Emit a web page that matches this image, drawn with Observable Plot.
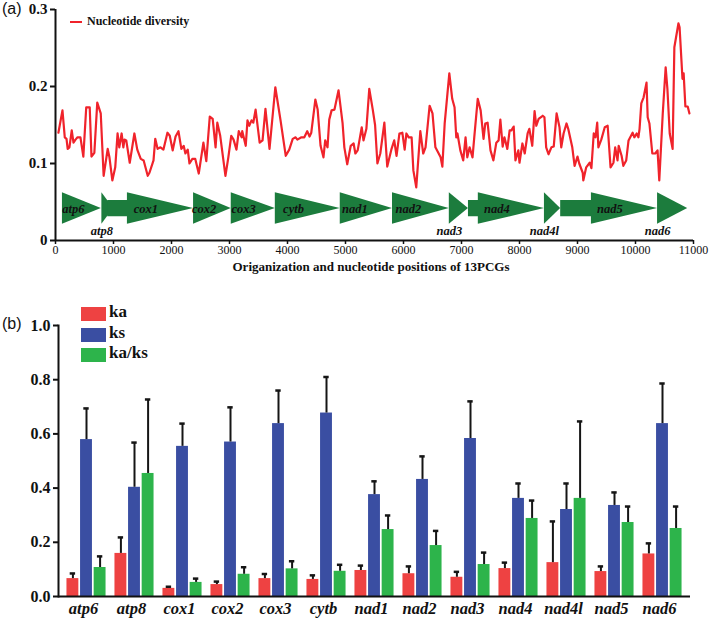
<!DOCTYPE html>
<html><head><meta charset="utf-8">
<script src="https://cdn.jsdelivr.net/npm/d3@7"></script>
<script src="https://cdn.jsdelivr.net/npm/@observablehq/plot@0.6"></script>
<style>
body{margin:0;background:#fff;}
#wrap{position:relative;width:709px;height:622px;overflow:hidden;font-family:"Liberation Serif",serif;color:#111;}
.abs{position:absolute;white-space:nowrap;}
#wrap svg{position:absolute;left:0;}
</style></head><body><div id="wrap"></div>
<script>
// ---------- Panel (a): nucleotide diversity ----------
const divPos = [50,120,160,190,210,240,280,310,345,380,430,480,530,590,620,670,720,780,830,900,930,980,1030,1070,1100,1140,1170,1190,1220,1280,1360,1410,1470,1520,1590,1620,1690,1720,1760,1810,1860,1930,1970,2020,2070,2120,2170,2210,2240,2280,2310,2360,2410,2470,2530,2550,2600,2660,2710,2760,2790,2840,2930,2980,3030,3070,3120,3160,3210,3220,3280,3310,3340,3380,3410,3450,3520,3570,3620,3690,3790,3880,3970,4030,4090,4140,4170,4240,4290,4340,4380,4410,4480,4520,4570,4620,4650,4690,4720,4760,4810,4880,4950,4980,5030,5090,5140,5170,5210,5280,5310,5360,5410,5470,5510,5550,5600,5670,5720,5790,5840,5880,5930,5980,6020,6050,6090,6140,6170,6220,6290,6340,6380,6450,6500,6550,6600,6640,6670,6710,6790,6840,6880,6910,6930,6980,7030,7070,7100,7140,7190,7220,7280,7330,7380,7410,7450,7500,7550,7600,7640,7670,7710,7740,7790,7830,7860,7900,7930,7980,8000,8050,8090,8140,8170,8220,8260,8290,8330,8400,8430,8460,8500,8550,8590,8640,8690,8720,8760,8810,8840,8910,8950,9000,9030,9090,9100,9150,9210,9240,9280,9310,9340,9360,9410,9470,9520,9570,9620,9650,9690,9710,9760,9790,9840,9880,9950,9980,10020,10050,10070,10100,10140,10190,10210,10240,10290,10340,10380,10410,10470,10520,10550,10590,10640,10670,10740,10760,10810,10830,10860,10900,10930];
const divVal = [0.140,0.169,0.134,0.132,0.119,0.121,0.143,0.127,0.131,0.134,0.134,0.109,0.173,0.173,0.109,0.114,0.179,0.165,0.084,0.119,0.108,0.078,0.095,0.139,0.121,0.139,0.121,0.131,0.130,0.101,0.139,0.118,0.106,0.104,0.084,0.088,0.104,0.132,0.119,0.121,0.118,0.140,0.136,0.117,0.135,0.142,0.119,0.123,0.113,0.118,0.100,0.106,0.106,0.087,0.117,0.127,0.103,0.161,0.158,0.121,0.153,0.136,0.084,0.108,0.136,0.131,0.118,0.142,0.134,0.142,0.123,0.156,0.149,0.156,0.153,0.170,0.127,0.130,0.171,0.119,0.199,0.156,0.110,0.118,0.132,0.134,0.131,0.134,0.134,0.142,0.135,0.140,0.183,0.170,0.123,0.108,0.130,0.121,0.157,0.169,0.170,0.195,0.152,0.121,0.099,0.123,0.126,0.113,0.117,0.147,0.130,0.145,0.197,0.170,0.150,0.100,0.113,0.153,0.096,0.118,0.130,0.110,0.139,0.140,0.118,0.139,0.134,0.134,0.091,0.069,0.142,0.113,0.121,0.175,0.165,0.121,0.114,0.108,0.096,0.152,0.217,0.184,0.173,0.134,0.139,0.117,0.104,0.134,0.108,0.121,0.108,0.134,0.184,0.169,0.132,0.152,0.153,0.117,0.104,0.127,0.130,0.157,0.122,0.134,0.119,0.143,0.143,0.148,0.104,0.117,0.101,0.126,0.113,0.139,0.145,0.123,0.168,0.149,0.158,0.162,0.160,0.121,0.112,0.121,0.122,0.165,0.147,0.121,0.139,0.152,0.145,0.121,0.097,0.109,0.100,0.088,0.078,0.095,0.101,0.094,0.139,0.134,0.153,0.121,0.131,0.147,0.149,0.095,0.101,0.121,0.104,0.123,0.110,0.097,0.104,0.130,0.140,0.134,0.139,0.134,0.145,0.178,0.186,0.205,0.160,0.152,0.113,0.113,0.117,0.078,0.165,0.225,0.197,0.139,0.119,0.251,0.282,0.277,0.210,0.217,0.174,0.174,0.165];

const geneNames = ["atp6","atp8","cox1","cox2","cox3","cytb","nad1","nad2","nad3","nad4","nad4l","nad5","nad6"];
const geneStart = [120,800,900,2380,3030,3790,4910,5810,6790,7120,8430,8710,10380];
const geneHead  = [120,800,1240,2380,3030,3790,4910,5810,6790,7290,8430,9240,10380];
const geneEnd   = [790,1000,2380,3030,3790,4910,5810,6790,7120,8430,8710,10380,10900];
const labelBelow = ["atp8","nad3","nad4l","nad6"];
const posTicks = [0,1000,2000,3000,4000,5000,6000,7000,8000,9000,10000,11000];
const divTicks = [0,0.1,0.2,0.3];

// ---------- Panel (b): ka / ks ----------
const pcgs = ["atp6","atp8","cox1","cox2","cox3","cytb","nad1","nad2","nad3","nad4","nad4l","nad5","nad6"];
const kaVal   = [0.066,0.159,0.030,0.044,0.066,0.063,0.096,0.084,0.071,0.103,0.125,0.092,0.157];
const kaErr   = [0.019,0.059,0.006,0.011,0.017,0.015,0.018,0.027,0.020,0.022,0.152,0.019,0.039];
const ksVal   = [0.579,0.403,0.554,0.570,0.638,0.677,0.376,0.432,0.583,0.362,0.321,0.336,0.638];
const ksErr   = [0.115,0.165,0.084,0.128,0.122,0.133,0.049,0.085,0.137,0.055,0.096,0.048,0.148];
const kaksVal = [0.107,0.454,0.052,0.082,0.102,0.093,0.247,0.188,0.118,0.288,0.362,0.273,0.251];
const kaksErr = [0.041,0.273,0.014,0.026,0.028,0.024,0.052,0.054,0.044,0.066,0.284,0.059,0.081];
const seriesNames = ["ka","ks","ka/ks"];
const rateTicks = [0,0.2,0.4,0.6,0.8,1.0];

const serif = "Liberation Serif";
const wrap = document.getElementById("wrap");

// ---- build panel (a) ----
const divData = divPos.map((x,i)=>({x, y: divVal[i]}));
const LO = 0.021, HI = 0.062, MID = 0.0415, BLO = 0.031, BHI = 0.052;
const arrowPts = [];
geneNames.forEach((g,i)=>{
  if (geneHead[i] > geneStart[i]) {
    arrowPts.push({gene:g, x:geneStart[i], y1:BLO, y2:BHI});
    arrowPts.push({gene:g, x:geneHead[i], y1:BLO, y2:BHI});
  }
  arrowPts.push({gene:g, x:geneHead[i], y1:LO, y2:HI});
  arrowPts.push({gene:g, x:geneEnd[i], y1:MID, y2:MID});
});
const inside = geneNames.map((g,i)=>({g, x: geneHead[i] + 0.28*(geneEnd[i]-geneHead[i])})).filter(d=>!labelBelow.includes(d.g));
const below = geneNames.map((g,i)=>({g, x: geneStart[i]})).filter(d=>labelBelow.includes(d.g));

const plotA = Plot.plot({
  width: 709, height: 282,
  marginLeft: 55, marginRight: 16, marginTop: 9, marginBottom: 42,
  style: {fontFamily: serif, background: "transparent", color: "#111", overflow: "visible"},
  x: {domain: [0, 11000]},
  y: {domain: [0, 0.3]},
  marks: [
    Plot.areaY(arrowPts, {x: "x", y1: "y1", y2: "y2", z: "gene", fill: "#1c7c3d", curve: "linear"}),
    Plot.text(inside, {x: "x", y: MID, text: "g", fontStyle: "italic", fontWeight: "bold", fontSize: 12.5, fill: "#111"}),
    Plot.text(below, {x: "x", y: 0.012, text: "g", fontStyle: "italic", fontWeight: "bold", fontSize: 12.5, fill: "#111"}),
    Plot.line(divData, {x: "x", y: "y", stroke: "#f0232b", strokeWidth: 2.2, curve: "linear"}),
    Plot.ruleY([0], {strokeWidth: 2, stroke: "#111"}),
    Plot.ruleX([0], {strokeWidth: 2, stroke: "#111"}),
    Plot.axisY({ticks: divTicks, tickFormat: d => d === 0 ? "0" : d.toFixed(1), tickSize: 5, tickPadding: 3, strokeWidth: 2, fontSize: 15, fontWeight: "bold", label: null}),
    Plot.axisX({ticks: posTicks, tickFormat: d => String(d), tickSize: 4, tickPadding: 1, strokeWidth: 1.5, fontSize: 12, label: null})
  ]
});
plotA.style.top = "0px";
wrap.appendChild(plotA);

// ---- build panel (b) ----
const colors = {"ka": "#ee4242", "ks": "#3a4ea2", "ka/ks": "#2db44b"};
const rows = [];
pcgs.forEach((g,i)=>{
  rows.push({gene:g, series:"ka", value:kaVal[i], err:kaErr[i]});
  rows.push({gene:g, series:"ks", value:ksVal[i], err:ksErr[i]});
  rows.push({gene:g, series:"ka/ks", value:kaksVal[i], err:kaksErr[i]});
});
const BW = (709 - 58 - 19) / pcgs.length;
const barInset = (BW - 12.5) / 2;
const capInset = (BW - 6) / 2;
const step = 13.6;
const bMarks = [];
seriesNames.forEach((s,k)=>{
  const d = rows.filter(r=>r.series===s);
  const dx = (k-1)*step;
  bMarks.push(Plot.barY(d, {x:"gene", y:"value", fill: colors[s], insetLeft: barInset, insetRight: barInset, dx}));
  bMarks.push(Plot.ruleX(d, {x:"gene", y1:"value", y2: r=>r.value+r.err, dx, stroke:"#151515", strokeWidth: 2}));
  bMarks.push(Plot.tickY(d, {x:"gene", y: r=>r.value+r.err, dx, insetLeft: capInset, insetRight: capInset, stroke:"#151515", strokeWidth: 2.5}));
});

const plotB = Plot.plot({
  width: 709, height: 340,
  marginLeft: 58, marginRight: 19, marginTop: 43, marginBottom: 26,
  style: {fontFamily: serif, background: "transparent", color: "#111", overflow: "visible"},
  x: {domain: pcgs, padding: 0},
  y: {domain: [0, 1]},
  marks: [
    ...bMarks,
    Plot.ruleY([0], {strokeWidth: 2, stroke: "#111"}),
    Plot.frame({anchor: "left", strokeWidth: 2, stroke: "#111"}),
    Plot.axisY({ticks: rateTicks, tickFormat: d => d.toFixed(1), tickSize: 5, tickPadding: 3, strokeWidth: 2, fontSize: 16, fontWeight: "bold", label: null}),
    Plot.axisX({tickSize: 0, tickPadding: 6, fontSize: 16.5, fontWeight: "bold", fontStyle: "italic", dx: -3, label: null})
  ]
});
plotB.style.top = "282px";
wrap.appendChild(plotB);

// ---- text overlays ----
function addDiv(html, css){ const d=document.createElement("div"); d.className="abs"; d.innerHTML=html; Object.assign(d.style, css); wrap.appendChild(d); return d; }
addDiv("(a)", {left:"2px", top:"0px", fontFamily:"Liberation Sans, Arial, sans-serif", fontSize:"16px"});
addDiv("(b)", {left:"2px", top:"315px", fontFamily:"Liberation Sans, Arial, sans-serif", fontSize:"16px"});
// panel a legend
addDiv("", {left:"70px", top:"21px", width:"12px", height:"2px", background:"#f0232b"});
addDiv("Nucleotide diversity", {left:"87px", top:"14px", fontSize:"12px", fontWeight:"bold"});
// panel a axis title
addDiv("Origanization and nucleotide positions of 13PCGs", {left:"371px", top:"259px", transform:"translateX(-50%)", fontSize:"13px", fontWeight:"bold"});
// panel b legend
seriesNames.forEach((s,k)=>{
  addDiv("", {left:"81px", top:(307+k*20.7)+"px", width:"25px", height:"14px", background: colors[s]});
  addDiv(s, {left:"109px", top:(302+k*20.7)+"px", fontSize:"17px", fontWeight:"bold", lineHeight:"20px"});
});
</script></body></html>
